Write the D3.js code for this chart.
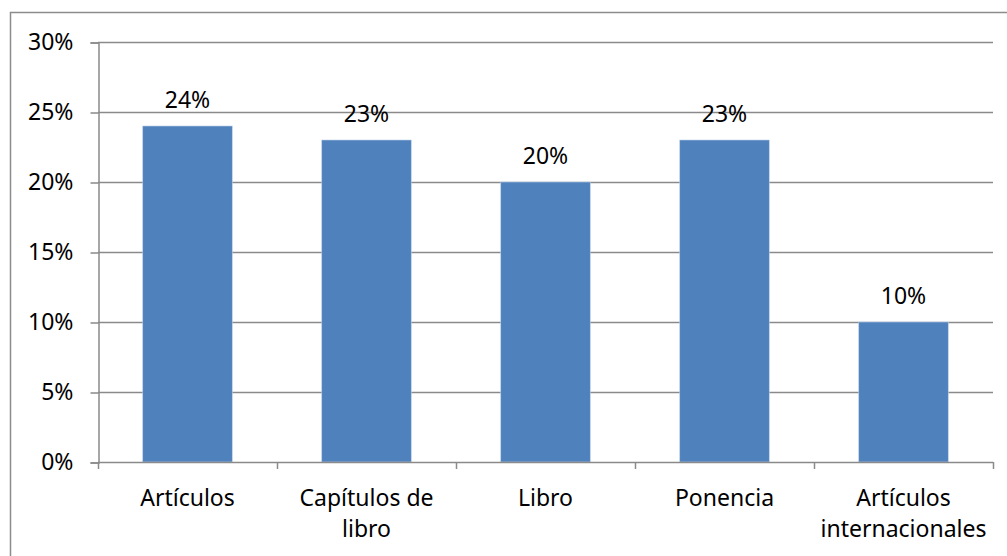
<!DOCTYPE html>
<html>
<head>
<meta charset="utf-8">
<script src="https://cdn.jsdelivr.net/npm/d3@7"></script>
<style>
  body { margin: 0; background: #fff; }
  text { font-family: "Noto Sans", "Open Sans", sans-serif; fill: #000; }
</style>
</head>
<body>
<div class="chart"></div>
<script>
// categories and values (share of total)
var categories = ['Artículos', 'Capítulos de libro', 'Libro', 'Ponencia', 'Artículos internacionales'];
var labelLines = [['Artículos'], ['Capítulos de', 'libro'], ['Libro'], ['Ponencia'], ['Artículos', 'internacionales']];
var values = [0.24, 0.23, 0.20, 0.23, 0.10];
var yTicks = [0, 0.05, 0.10, 0.15, 0.20, 0.25, 0.30];

var W = 1007, H = 556;
var plotLeft = 98, plotRight = 993, plotTop = 42, plotBottom = 462;
var fontSize = '23px';

var svg = d3.select('.chart')
  .append('svg')
    .attr('width', W)
    .attr('height', H);

// outer chart frame (cut at the right and bottom in the picture)
svg.append('rect')
  .attr('x', 10.5).attr('y', 12.5)
  .attr('width', W + 20).attr('height', H + 20)
  .attr('fill', 'none')
  .attr('stroke', '#8c8c8c')
  .attr('stroke-width', 1.5);

var x = d3.scaleBand()
  .domain(categories)
  .range([plotLeft, plotRight])
  .paddingInner(0.5)
  .paddingOuter(0.25);

var y = d3.scaleLinear()
  .domain([0, 0.3])
  .range([plotBottom, plotTop]);

// gridlines
svg.append('g')
  .selectAll('line')
  .data(yTicks.filter(d => d > 0))
  .enter()
    .append('line')
    .attr('x1', plotLeft).attr('x2', plotRight)
    .attr('y1', d => Math.round(y(d)) + 0.5)
    .attr('y2', d => Math.round(y(d)) + 0.5)
    .attr('stroke', '#8a8a8a')
    .attr('stroke-width', 1.5);

// y axis
var yAxis = svg.append('g')
  .attr('transform', 'translate(' + (plotLeft + 0.5) + ',0.5)')
  .call(d3.axisLeft(y).tickValues(yTicks).tickFormat(d3.format('.0%')).tickSize(8).tickPadding(17));
yAxis.select('.domain').attr('stroke', '#8a8a8a').attr('stroke-width', 1.5);
yAxis.selectAll('.tick line').attr('stroke', '#8a8a8a').attr('stroke-width', 1.5);
yAxis.selectAll('.tick text')
  .style('font-size', fontSize)
  .style('font-family', '"Noto Sans", sans-serif');

// bars
svg.append('g')
  .selectAll('rect')
  .data(values)
  .enter()
    .append('rect')
    .attr('x', (d, i) => x(categories[i]))
    .attr('y', d => y(d))
    .attr('width', x.bandwidth())
    .attr('height', d => y(0) - y(d))
    .attr('fill', '#4f81bd')
    .attr('stroke', '#bcd0e8')
    .attr('stroke-width', 0.6);

// x axis (ticks between categories)
var bounds = d3.range(categories.length + 1).map(i => plotLeft + i * (plotRight - plotLeft) / categories.length);
svg.append('line')
  .attr('x1', plotLeft).attr('x2', plotRight)
  .attr('y1', plotBottom + 0.5).attr('y2', plotBottom + 0.5)
  .attr('stroke', '#8a8a8a').attr('stroke-width', 1.5);
svg.append('g')
  .selectAll('line')
  .data(bounds)
  .enter()
    .append('line')
    .attr('x1', d => Math.round(d) + 0.5).attr('x2', d => Math.round(d) + 0.5)
    .attr('y1', plotBottom).attr('y2', plotBottom + 7)
    .attr('stroke', '#8a8a8a').attr('stroke-width', 1.5);

// category labels
var cat = svg.append('g')
  .selectAll('text')
  .data(categories)
  .enter()
    .append('text')
    .attr('text-anchor', 'middle')
    .style('font-size', fontSize);
cat.each(function (d, i) {
  d3.select(this).selectAll('tspan')
    .data(labelLines[i])
    .enter()
      .append('tspan')
      .attr('x', x(d) + x.bandwidth() / 2)
      .attr('y', (t, j) => 506 + j * 31)
      .text(t => t);
});

// value labels
svg.append('g')
  .selectAll('text')
  .data(values)
  .enter()
    .append('text')
    .attr('x', (d, i) => x(categories[i]) + x.bandwidth() / 2)
    .attr('y', d => y(d) - 18)
    .attr('text-anchor', 'middle')
    .style('font-size', fontSize)
    .text(d => d3.format('.0%')(d));
</script>
</body>
</html>
